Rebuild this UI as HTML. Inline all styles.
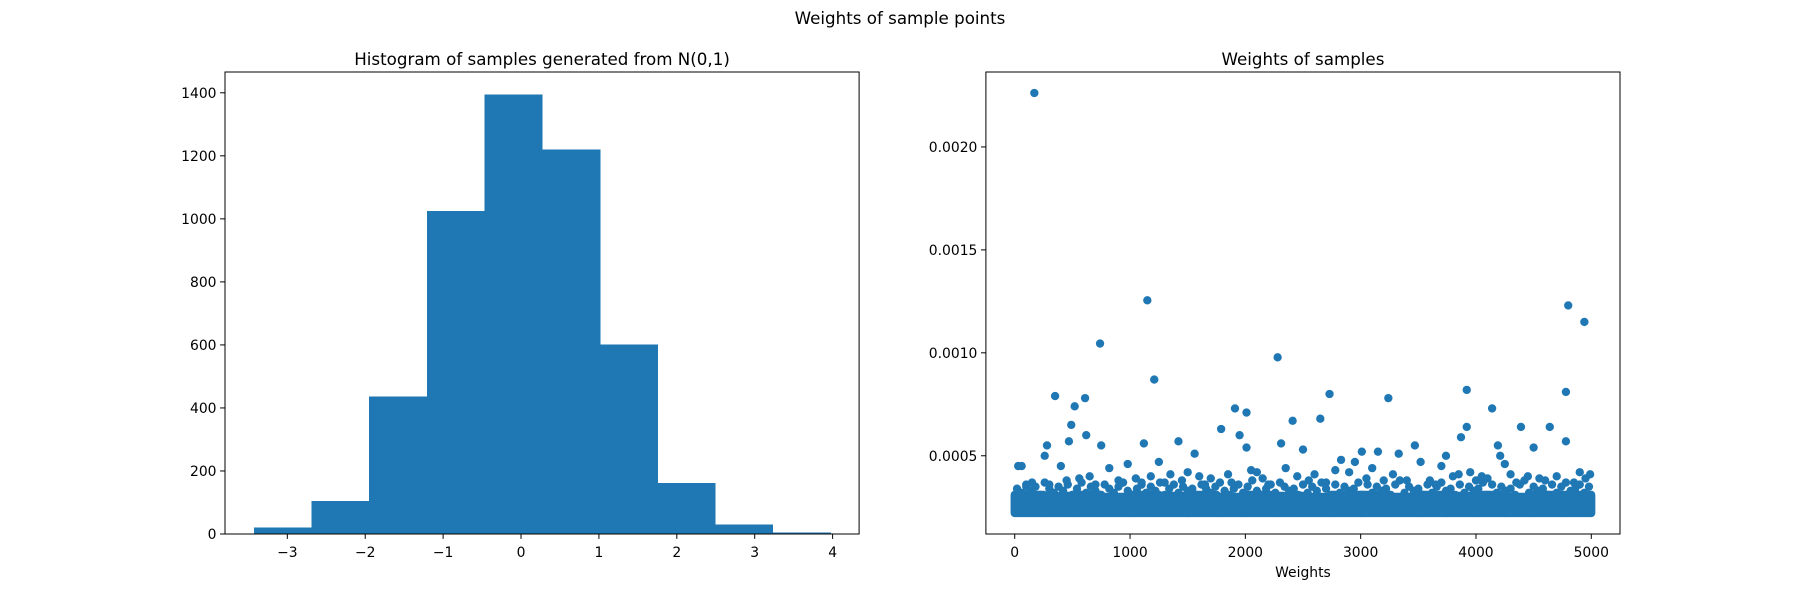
<!DOCTYPE html>
<html><head><meta charset="utf-8"><style>
body{margin:0;background:#fff}
svg text{font-family:"DejaVu Sans","Liberation Sans",sans-serif;fill:#000}
</style></head><body>
<svg id="fig" width="1800" height="600" viewBox="0 0 1800 600" xmlns="http://www.w3.org/2000/svg">
<rect width="1800" height="600" fill="#fff"/>
<text x="900" y="24" font-size="16.7" text-anchor="middle">Weights of sample points</text>
<g id="left"></g>
<g id="right"></g>
</svg>
<script>
// Histogram data
const binEdges = [-3.43,-2.69,-1.95,-1.21,-0.47,0.27,1.01,1.75,2.49,3.23,3.97];
const counts = [20,105,437,1025,1395,1220,601,162,30,4];
const histXTicks = [-3,-2,-1,0,1,2,3,4];
const histYTicks = [0,200,400,600,800,1000,1200,1400];
// Scatter data
const bandBinStart = [0,250,500,750,1000,1250,1500,1750,2000,2250,2500,2750,3000,3250,3500,3750,4000,4250,4500,4750];
const bandLow = [0.000222,0.000222,0.000222,0.000222,0.000222,0.000222,0.000222,0.000222,0.000222,0.000222,0.000222,0.000222,0.000222,0.000222,0.000222,0.000222,0.000222,0.000222,0.000222,0.000222];
const bandHigh = [0.00031,0.000305,0.00031,0.0003,0.00031,0.000305,0.00031,0.0003,0.00031,0.000305,0.0003,0.00031,0.00031,0.0003,0.00031,0.000305,0.00031,0.0003,0.00031,0.00031];
const pointIdx = [170,1150,740,2280,1210,4800,4940,350,610,520,2730,3240,3920,4780,1910,2010,4140,490,2410,2650,3920,4390,4640,620,1790,1950,3870,470,280,750,1120,1420,2010,2310,2500,3470,4190,4500,4780,30,60,260,1560,2830,3010,3150,3330,3740,4210,
  100,150,300,400,450,560,650,700,820,900,980,1050,1100,1180,1250,1300,1350,1450,1500,1600,1650,1700,1850,1880,2050,2100,2150,2200,2350,2450,2550,2600,2700,2780,2900,2950,3050,3100,3200,3280,3400,3520,3600,3650,3700,3800,3850,3950,4000,4050,4100,4250,4300,4350,4450,4550,4600,4700,4850,4900,4950,4990];
const pointVal = [0.002262,0.001255,0.001045,0.000978,0.00087,0.00123,0.00115,0.00079,0.00078,0.00074,0.0008,0.00078,0.00082,0.00081,0.00073,0.00071,0.00073,0.00065,0.00067,0.00068,0.00064,0.00064,0.00064,0.0006,0.00063,0.0006,0.00059,0.00057,0.00055,0.00055,0.00056,0.00057,0.00054,0.00056,0.00053,0.00055,0.00055,0.00054,0.00057,0.00045,0.00045,0.0005,0.00051,0.00048,0.00052,0.00052,0.00051,0.0005,0.0005,
  0.00035,0.00037,0.00036,0.00045,0.00038,0.00039,0.0004,0.00036,0.00044,0.00038,0.00046,0.00039,0.00037,0.0004,0.00047,0.00037,0.00041,0.00038,0.00042,0.0004,0.00036,0.00039,0.00041,0.00037,0.00043,0.00042,0.00039,0.00036,0.00044,0.0004,0.00038,0.00041,0.00037,0.00043,0.00042,0.00047,0.00039,0.00044,0.00038,0.00041,0.00038,0.00047,0.00038,0.00036,0.00045,0.0004,0.00041,0.00042,0.00038,0.0004,0.00039,0.00046,0.00041,0.00037,0.0004,0.00039,0.00038,0.0004,0.00037,0.00042,0.00039,0.00041,0.00036,0.00035];
// Points along the ragged top of the dense band (one per 40 samples)
const edgeVal = [0.00034,0.00032,0.00036,0.00033,0.00035,0.00031,0.00037,0.00034,0.00032,0.00035,0.00033,0.00036,0.00031,0.00034,0.00037,0.00032,0.00035,0.00033,0.00031,0.00036,0.00034,0.00032,0.00035,0.00037,0.00033,0.00031,0.00034,0.00036,0.00032,0.00035,0.00033,0.00037,0.00031,0.00034,0.00036,0.00032,0.00035,0.00033,0.00034,0.00031,0.00036,0.00034,0.00032,0.00035,0.00037,0.00033,0.00031,0.00034,0.00036,0.00032,0.00035,0.00038,0.00033,0.00031,0.00034,0.00036,0.00032,0.00037,0.00035,0.00033,0.00034,0.00031,0.00036,0.00032,0.00035,0.00033,0.00037,0.00034,0.00031,0.00036,0.00032,0.00035,0.00033,0.00034,0.00037,0.00031,0.00036,0.00032,0.00035,0.00033,0.00034,0.00031,0.00036,0.00038,0.00032,0.00035,0.00033,0.00034,0.00031,0.00036,0.00032,0.00035,0.00037,0.00033,0.00034,0.00031,0.00036,0.00032,0.00035,0.00033,0.00034,0.00037,0.00031,0.00036,0.00032,0.00035,0.00033,0.00034,0.00031,0.00036,0.00038,0.00032,0.00035,0.00033,0.00034,0.00031,0.00036,0.00032,0.00035,0.00037,0.00033,0.00034,0.00036,0.00032,0.00035];
const scXTicks = [0,1000,2000,3000,4000,5000];
const scYTicks = [0.0005,0.0010,0.0015,0.0020];
const scYLabels = ["0.0005","0.0010","0.0015","0.0020"];

const NS="http://www.w3.org/2000/svg";
function mk(parent,tag,attrs){const e=document.createElementNS(NS,tag);for(const k in attrs)e.setAttribute(k,attrs[k]);parent.appendChild(e);return e;}
const C="#1f77b4";
const TOP=72,BOT=534;

// Left axes
const L={x0:225,x1:859.1};
const hx=v=>L.x0+(v-(-3.80))/(4.34-(-3.80))*(L.x1-L.x0);
const hy=v=>BOT-v/1466*(BOT-TOP);
const gl=document.getElementById('left');
const tl=mk(gl,'text',{x:(L.x0+L.x1)/2,y:TOP-7,'font-size':16.7,'text-anchor':'middle'});tl.textContent='Histogram of samples generated from N(0,1)';


counts.forEach((c,i)=>{
  const r=mk(gl,'rect',{x:hx(binEdges[i]),y:hy(c),width:hx(binEdges[i+1])-hx(binEdges[i])+0.6,height:hy(0)-hy(c),fill:C,'shape-rendering':'crispEdges'});
  
  
});
const fl=mk(gl,'rect',{x:L.x0,y:TOP,width:L.x1-L.x0,height:BOT-TOP,fill:'none',stroke:'#000','stroke-width':1});


histXTicks.forEach(t=>{
  const x=hx(t);mk(gl,'line',{x1:x,x2:x,y1:BOT,y2:BOT+4.9,stroke:'#000'});
  const tx=mk(gl,'text',{x:x,y:BOT+23,'font-size':13.9,'text-anchor':'middle'});tx.textContent=t<0?'\u2212'+(-t):String(t);
  
  
});
histYTicks.forEach(t=>{
  const y=hy(t);mk(gl,'line',{x1:L.x0-4.9,x2:L.x0,y1:y,y2:y,stroke:'#000'});
  const tx=mk(gl,'text',{x:L.x0-8.5,y:y+5,'font-size':13.9,'text-anchor':'end'});tx.textContent=String(t);
  
  
});

// Right axes
const R={x0:985.9,x1:1620};
const sx=v=>R.x0+(v-(-250))/5499*(R.x1-R.x0);
const sy=v=>BOT-(v-0.00012)/(0.002364-0.00012)*(BOT-TOP);
const gr=document.getElementById('right');
const tr=mk(gr,'text',{x:(R.x0+R.x1)/2,y:TOP-7,'font-size':16.7,'text-anchor':'middle'});tr.textContent='Weights of samples';


const RAD=4.17;
bandBinStart.forEach((s,i)=>{
  const e=i+1<bandBinStart.length?bandBinStart[i+1]:4999;
  const x0=sx(s)-RAD,x1=sx(e)+RAD;
  const r=mk(gr,'rect',{x:x0,y:sy(bandHigh[i])-RAD,width:x1-x0,height:sy(bandLow[i])-sy(bandHigh[i])+2*RAD,rx:RAD,fill:C});
  
  
});
edgeVal.forEach((v,i)=>{
  const c=mk(gr,'circle',{cx:sx(20+i*40),cy:sy(v),r:RAD,fill:C});
  
  
});
pointIdx.forEach((p,i)=>{
  const c=mk(gr,'circle',{cx:sx(p),cy:sy(pointVal[i]),r:RAD,fill:C});
  
  
});
const fr=mk(gr,'rect',{x:R.x0,y:TOP,width:R.x1-R.x0,height:BOT-TOP,fill:'none',stroke:'#000','stroke-width':1});


scXTicks.forEach(t=>{
  const x=sx(t);mk(gr,'line',{x1:x,x2:x,y1:BOT,y2:BOT+4.9,stroke:'#000'});
  const tx=mk(gr,'text',{x:x,y:BOT+23,'font-size':13.9,'text-anchor':'middle'});tx.textContent=String(t);
  
  
});
scYTicks.forEach((t,i)=>{
  const y=sy(t);mk(gr,'line',{x1:R.x0-4.9,x2:R.x0,y1:y,y2:y,stroke:'#000'});
  const tx=mk(gr,'text',{x:R.x0-8.5,y:y+5,'font-size':13.9,'text-anchor':'end'});tx.textContent=scYLabels[i];
  
  
});
const xl=mk(gr,'text',{x:(R.x0+R.x1)/2,y:BOT+43,'font-size':13.9,'text-anchor':'middle'});xl.textContent='Weights';


</script>
</body></html>
